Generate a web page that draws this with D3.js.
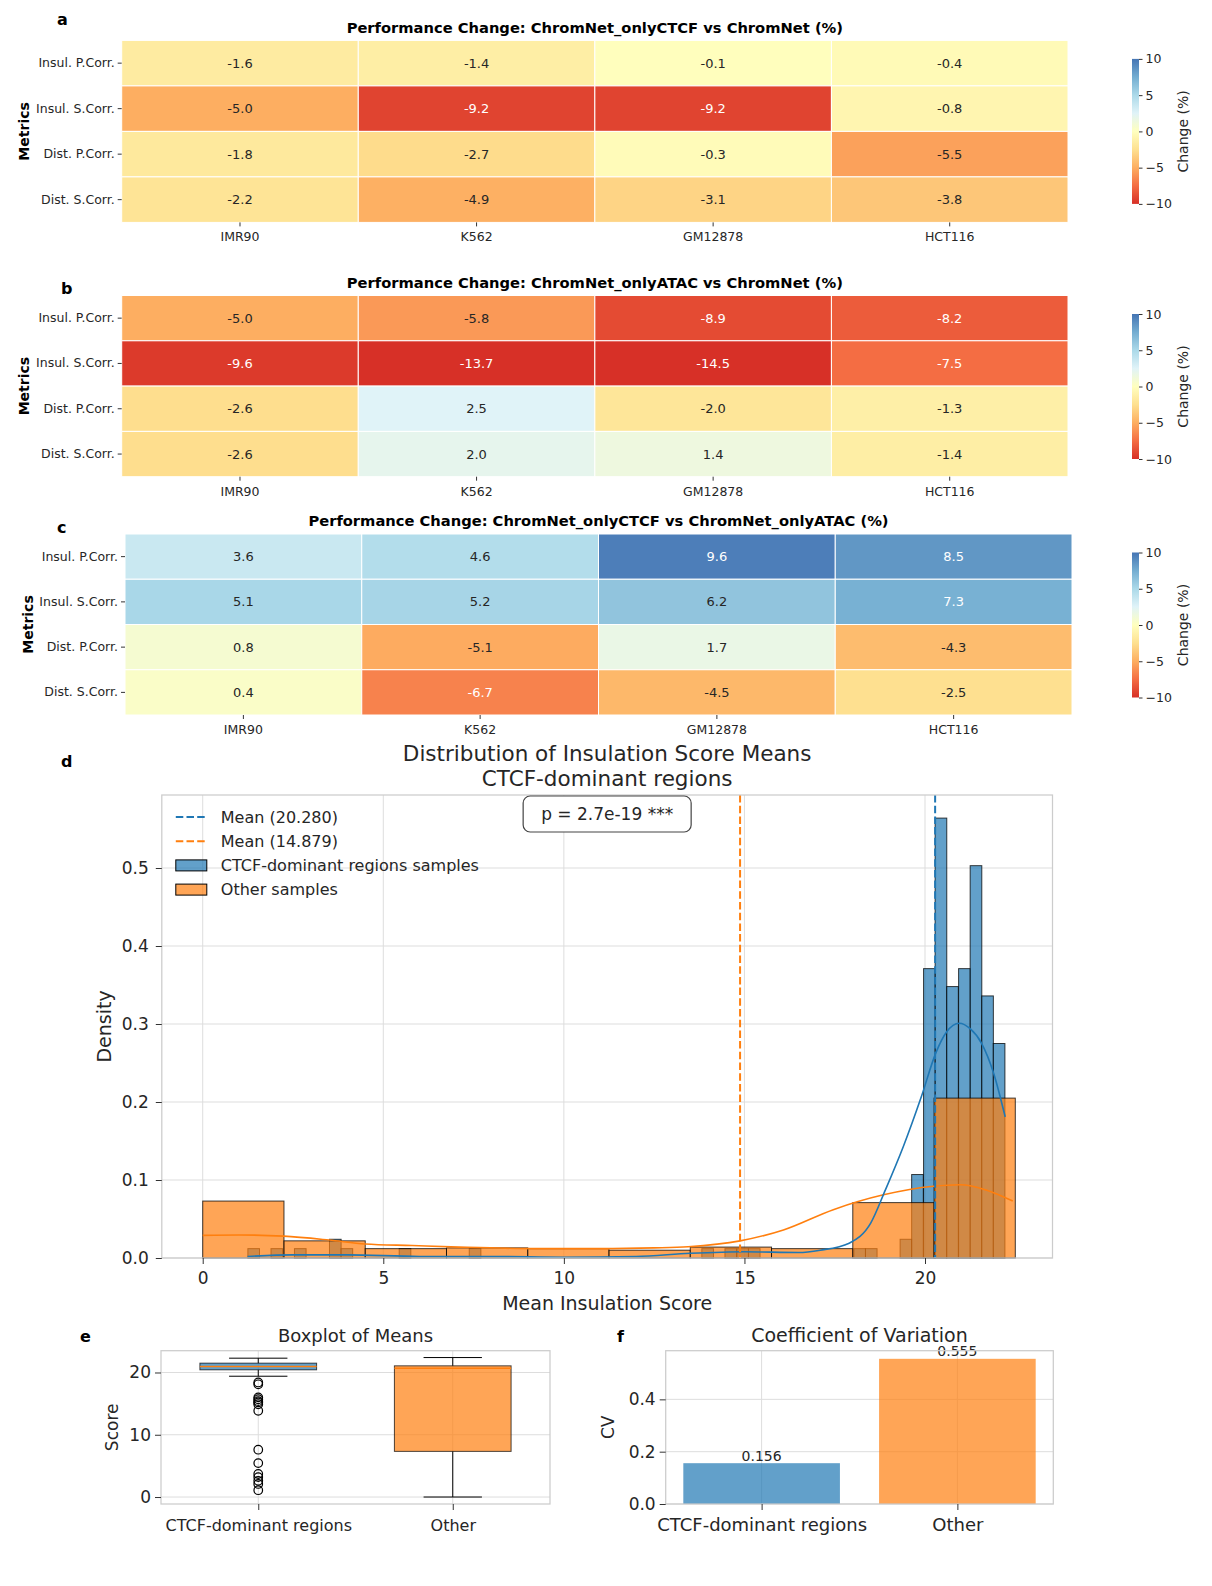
<!DOCTYPE html>
<html>
<head>
<meta charset="utf-8">
<script src="https://cdn.jsdelivr.net/npm/d3@7"></script>
<style>
  body { margin: 0; background: #fff; }
  svg { display: block; font-family: "DejaVu Sans", sans-serif; }
</style>
</head>
<body>
<div id="chart"></div>
<script>
// ---------------- data ----------------
const metrics = ["Insul. P.Corr.", "Insul. S.Corr.", "Dist. P.Corr.", "Dist. S.Corr."];
const cellLines = ["IMR90", "K562", "GM12878", "HCT116"];

// rows follow metrics, columns follow cellLines (% change)
const ctcfVsFull = [
  [-1.6, -1.4, -0.1, -0.4],
  [-5.0, -9.2, -9.2, -0.8],
  [-1.8, -2.7, -0.3, -5.5],
  [-2.2, -4.9, -3.1, -3.8]
];
const atacVsFull = [
  [-5.0, -5.8, -8.9, -8.2],
  [-9.6, -13.7, -14.5, -7.5],
  [-2.6, 2.5, -2.0, -1.3],
  [-2.6, 2.0, 1.4, -1.4]
];
const ctcfVsAtac = [
  [3.6, 4.6, 9.6, 8.5],
  [5.1, 5.2, 6.2, 7.3],
  [0.8, -5.1, 1.7, -4.3],
  [0.4, -6.7, -4.5, -2.5]
];
const changeTicks = [-10, -5, 0, 5, 10];

// distribution of insulation score means
const ctcfMean = 20.280;
const otherMean = 14.879;
const pText = "p = 2.7e-19 ***";

const otherBinStart = [0, 2.25, 4.5, 6.75, 9, 11.25, 13.5, 15.75, 18, 20.25];
const otherBinWidth = 2.25;
const otherDensity = [0.073, 0.022, 0.012, 0.013, 0.012, 0.010, 0.014, 0.012, 0.071, 0.205];

const ctcfBinStart = [1.25, 1.89, 2.54, 3.51, 3.83, 5.44, 7.38, 13.82, 14.46, 14.79, 15.11,
  18.03, 18.35, 19.31, 19.63, 19.96, 20.28, 20.60, 20.93, 21.25, 21.57, 21.89];
const ctcfBinWidth = 0.3225;
const ctcfDensity = [0.012, 0.012, 0.012, 0.024, 0.012, 0.012, 0.012, 0.012, 0.012, 0.012, 0.012,
  0.012, 0.012, 0.024, 0.107, 0.371, 0.564, 0.348, 0.371, 0.503, 0.336, 0.275];

// kde curves: [score, density]
const ctcfKde = [[1.24, 0.002], [2.5, 0.004], [4, 0.004], [6, 0.002], [8, 0.002], [10, 0.001],
  [12, 0.002], [13.5, 0.006], [15, 0.008], [16.5, 0.007], [17.1, 0.010], [17.9, 0.019],
  [18.5, 0.045], [18.9, 0.087], [19.4, 0.143], [19.9, 0.207], [20.3, 0.263], [20.6, 0.290],
  [20.95, 0.301], [21.25, 0.294], [21.57, 0.275], [21.9, 0.237], [22.22, 0.181]];
const otherKde = [[0, 0.029], [1, 0.0295], [2.24, 0.028], [3.5, 0.023], [4.5, 0.018], [5.8, 0.016],
  [7.1, 0.014], [9.25, 0.012], [11.0, 0.012], [12.5, 0.013], [13.44, 0.0145], [14.88, 0.022],
  [16.08, 0.036], [17.46, 0.062], [18.85, 0.081], [20.23, 0.092], [20.97, 0.094], [21.71, 0.087],
  [22.43, 0.073]];

// boxplot + coefficient of variation
const groups = ["CTCF-dominant regions", "Other"];
const whiskerLow = [19.4, 0.0];
const boxQ1 = [20.43, 7.33];
const boxMedian = [20.96, 20.7];
const boxQ3 = [21.5, 21.07];
const whiskerHigh = [22.3, 22.4];
const ctcfOutliers = [18.4, 18.1, 16.0, 15.7, 15.4, 15.2, 14.9, 13.85, 7.6, 5.45, 3.7, 3.2, 2.6, 2.1, 1.1];
const cvValues = [0.156, 0.555];

// ---------------- setup ----------------
const blue = "#1f77b4", orange = "#ff7f0e", ink = "#262626";
const gridCol = "#dddddd", frameCol = "#cccccc";
const groupColor = [blue, orange];

const svg = d3.select("#chart").append("svg").attr("width", 1212).attr("height", 1586);
const fmtCell = d3.formatLocale({decimal: ".", thousands: ",", grouping: [3], currency: ["", ""], minus: "-"}).format(".1f");

const heatColors = ["#d73027", "#f46d43", "#fdae61", "#fee090", "#ffffbf", "#e0f3f8", "#abd9e9", "#74add1", "#4575b4"];
const heatColor = d3.scaleLinear()
  .domain(heatColors.map((c, i) => -10 + 20 * i / (heatColors.length - 1)))
  .range(heatColors)
  .clamp(true);

const grad = svg.append("defs").append("linearGradient")
  .attr("id", "cbar").attr("x1", 0).attr("y1", 1).attr("x2", 0).attr("y2", 0);
grad.selectAll("stop").data(heatColors).join("stop")
  .attr("offset", (d, i) => i / (heatColors.length - 1))
  .attr("stop-color", d => d);

// white text on dark cells (same rule seaborn uses)
function textColor(c) {
  const rgb = d3.rgb(c);
  const lin = v => { v /= 255; return v <= 0.03928 ? v / 12.92 : Math.pow((v + 0.055) / 1.055, 2.4); };
  const L = 0.2126 * lin(rgb.r) + 0.7152 * lin(rgb.g) + 0.0722 * lin(rgb.b);
  return L > 0.408 ? ink : "#fff";
}

function styleAxis(a, size) {
  a.attr("font-family", "DejaVu Sans").attr("font-size", size);
  a.select(".domain").remove();
  a.selectAll("line").attr("stroke", "#333");
  a.selectAll("text").attr("fill", ink);
}

function letter(t, x, y) {
  svg.append("text").attr("x", x).attr("y", y)
    .attr("font-size", 16).attr("font-weight", "bold")
    .attr("dominant-baseline", "central").text(t);
}

// ---------------- heatmaps a, b, c ----------------
function heatmap(values, title, tag, box) {
  const x = d3.scaleBand().domain(cellLines).range([box.left, box.right]);
  const y = d3.scaleBand().domain(metrics).range([box.top, box.bottom]);
  const g = svg.append("g");
  const cells = metrics.flatMap((m, r) => cellLines.map((c, k) => ({m, c, v: values[r][k]})));

  g.selectAll("rect").data(cells).join("rect")
    .attr("x", d => x(d.c)).attr("y", d => y(d.m))
    .attr("width", x.bandwidth()).attr("height", y.bandwidth())
    .attr("fill", d => heatColor(d.v))
    .attr("stroke", "#fff").attr("stroke-width", 1);

  g.selectAll("text.val").data(cells).join("text").attr("class", "val")
    .attr("x", d => x(d.c) + x.bandwidth() / 2)
    .attr("y", d => y(d.m) + y.bandwidth() / 2)
    .attr("text-anchor", "middle").attr("dominant-baseline", "central")
    .attr("font-size", 13)
    .attr("fill", d => textColor(heatColor(d.v)))
    .text(d => fmtCell(d.v));

  styleAxis(g.append("g").attr("transform", `translate(0,${box.bottom})`)
    .call(d3.axisBottom(x).tickSize(4).tickPadding(6)), 12.5);
  styleAxis(g.append("g").attr("transform", `translate(${box.left},0)`)
    .call(d3.axisLeft(y).tickSize(4).tickPadding(3)), 12.5);

  g.append("text")
    .attr("x", (box.left + box.right) / 2).attr("y", box.titleY)
    .attr("text-anchor", "middle").attr("dominant-baseline", "central")
    .attr("font-size", 14.7).attr("font-weight", "bold").text(title);

  g.append("text")
    .attr("transform", `translate(${box.metricsX},${(box.top + box.bottom) / 2}) rotate(-90)`)
    .attr("text-anchor", "middle").attr("dominant-baseline", "central")
    .attr("font-size", 14).attr("font-weight", "bold").text("Metrics");

  // colorbar
  const cbTop = box.top + 18.5, cbBottom = cbTop + 145, cbX = 1132, cbW = 7;
  const cy = d3.scaleLinear().domain([-10, 10]).range([cbBottom, cbTop]);
  g.append("rect").attr("x", cbX).attr("y", cbTop).attr("width", cbW).attr("height", cbBottom - cbTop)
    .attr("fill", "url(#cbar)");
  styleAxis(g.append("g").attr("transform", `translate(${cbX + cbW},0)`)
    .call(d3.axisRight(cy).tickValues(changeTicks).tickFormat(d3.format("d")).tickSize(3.5).tickPadding(3)), 12.5);
  g.append("text")
    .attr("transform", `translate(1183,${(cbTop + cbBottom) / 2}) rotate(-90)`)
    .attr("text-anchor", "middle").attr("dominant-baseline", "central")
    .attr("font-size", 14).attr("fill", ink).text("Change (%)");

  letter(tag, box.letterX, box.letterY);
}

heatmap(ctcfVsFull, "Performance Change: ChromNet_onlyCTCF vs ChromNet (%)", "a",
  {left: 121.7, right: 1068, top: 40.4, bottom: 222.4, titleY: 27.5, metricsX: 24, letterX: 57, letterY: 19.5});
heatmap(atacVsFull, "Performance Change: ChromNet_onlyATAC vs ChromNet (%)", "b",
  {left: 121.7, right: 1068, top: 295.5, bottom: 476.7, titleY: 282, metricsX: 24, letterX: 61, letterY: 288});
heatmap(ctcfVsAtac, "Performance Change: ChromNet_onlyCTCF vs ChromNet_onlyATAC (%)", "c",
  {left: 125, right: 1072, top: 534, bottom: 715, titleY: 520.7, metricsX: 28, letterX: 57, letterY: 527});

// ---------------- d: histogram ----------------
{
  const box = {left: 161.8, right: 1052.5, top: 795, bottom: 1258};
  const x = d3.scaleLinear().domain([-1.133, 23.53]).range([box.left, box.right]);
  const y = d3.scaleLinear().domain([0, 0.5936]).range([box.bottom, box.top]);
  const g = svg.append("g");

  g.append("g").selectAll("line").data(x.ticks(5)).join("line")
    .attr("x1", d => x(d)).attr("x2", d => x(d)).attr("y1", box.top).attr("y2", box.bottom)
    .attr("stroke", gridCol).attr("stroke-width", 1);
  g.append("g").selectAll("line").data(y.ticks(6)).join("line")
    .attr("x1", box.left).attr("x2", box.right).attr("y1", d => y(d)).attr("y2", d => y(d))
    .attr("stroke", gridCol).attr("stroke-width", 1);

  const bars = (starts, width, dens, col) => g.append("g").selectAll("rect").data(starts).join("rect")
    .attr("x", d => x(d)).attr("width", x(width) - x(0))
    .attr("y", (d, i) => y(dens[i])).attr("height", (d, i) => y(0) - y(dens[i]))
    .attr("fill", col).attr("fill-opacity", 0.7)
    .attr("stroke", "#000").attr("stroke-opacity", 0.75).attr("stroke-width", 1);
  bars(ctcfBinStart, ctcfBinWidth, ctcfDensity, blue);
  bars(otherBinStart, otherBinWidth, otherDensity, orange);

  const line = d3.line().x(d => x(d[0])).y(d => y(d[1])).curve(d3.curveMonotoneX);
  g.append("path").attr("d", line(otherKde)).attr("fill", "none").attr("stroke", orange).attr("stroke-width", 1.6);
  g.append("path").attr("d", line(ctcfKde)).attr("fill", "none").attr("stroke", blue).attr("stroke-width", 1.6);

  [[ctcfMean, blue], [otherMean, orange]].forEach(([m, c]) => {
    g.append("line").attr("x1", x(m)).attr("x2", x(m)).attr("y1", box.top).attr("y2", box.bottom)
      .attr("stroke", c).attr("stroke-width", 2).attr("stroke-dasharray", "7.5,3.2");
  });

  g.append("rect").attr("x", box.left).attr("y", box.top)
    .attr("width", box.right - box.left).attr("height", box.bottom - box.top)
    .attr("fill", "none").attr("stroke", frameCol).attr("stroke-width", 1.25);

  styleAxis(g.append("g").attr("transform", `translate(0,${box.bottom})`)
    .call(d3.axisBottom(x).ticks(5).tickSize(6).tickPadding(8)), 17);
  styleAxis(g.append("g").attr("transform", `translate(${box.left},0)`)
    .call(d3.axisLeft(y).ticks(6).tickFormat(d3.format(".1f")).tickSize(6).tickPadding(7)), 17);

  const cx = (box.left + box.right) / 2;
  g.append("text").attr("x", cx).attr("y", 753).attr("text-anchor", "middle").attr("dominant-baseline", "central")
    .attr("font-size", 21.5).attr("fill", ink).text("Distribution of Insulation Score Means");
  g.append("text").attr("x", cx).attr("y", 778.5).attr("text-anchor", "middle").attr("dominant-baseline", "central")
    .attr("font-size", 21.5).attr("fill", ink).text("CTCF-dominant regions");
  g.append("text").attr("x", cx).attr("y", 1303).attr("text-anchor", "middle").attr("dominant-baseline", "central")
    .attr("font-size", 19).attr("fill", ink).text("Mean Insulation Score");
  g.append("text").attr("transform", `translate(104,${(box.top + box.bottom) / 2}) rotate(-90)`)
    .attr("text-anchor", "middle").attr("dominant-baseline", "central")
    .attr("font-size", 19).attr("fill", ink).text("Density");

  // p-value box at top centre of the axes
  const pw = 168, ph = 36;
  g.append("rect").attr("x", cx - pw / 2).attr("y", box.top + 1).attr("width", pw).attr("height", ph)
    .attr("rx", 7).attr("fill", "#fff").attr("stroke", "#444").attr("stroke-width", 1.2);
  g.append("text").attr("x", cx).attr("y", box.top + 1 + ph / 2).attr("text-anchor", "middle")
    .attr("dominant-baseline", "central").attr("font-size", 17).attr("fill", ink).text(pText);

  // legend
  const fmt3 = d3.format(".3f");
  const items = [
    {type: "line", c: blue, t: `Mean (${fmt3(ctcfMean)})`},
    {type: "line", c: orange, t: `Mean (${fmt3(otherMean)})`},
    {type: "patch", c: blue, t: "CTCF-dominant regions samples"},
    {type: "patch", c: orange, t: "Other samples"}
  ];
  const lx = box.left + 14, ly = box.top + 22, step = 24.2;
  items.forEach((it, i) => {
    const yy = ly + i * step;
    if (it.type === "line") {
      g.append("line").attr("x1", lx).attr("x2", lx + 31).attr("y1", yy).attr("y2", yy)
        .attr("stroke", it.c).attr("stroke-width", 2).attr("stroke-dasharray", "7.5,3.2");
    } else {
      g.append("rect").attr("x", lx).attr("y", yy - 5.5).attr("width", 31).attr("height", 11)
        .attr("fill", it.c).attr("fill-opacity", 0.7).attr("stroke", "#000").attr("stroke-width", 1);
    }
    g.append("text").attr("x", lx + 45).attr("y", yy).attr("dominant-baseline", "central")
      .attr("font-size", 16).attr("fill", ink).text(it.t);
  });

  letter("d", 61, 761);
}

// ---------------- e: boxplot ----------------
{
  const box = {left: 161, right: 550, top: 1350.7, bottom: 1504};
  const x = d3.scaleLinear().domain([0.5, 2.5]).range([box.left, box.right]);
  const y = d3.scaleLinear().domain([-1.12, 23.5]).range([box.bottom, box.top]);
  const g = svg.append("g");
  const yTicks = [0, 10, 20];
  const pos = groups.map((d, i) => i + 1);
  const half = 0.3, cap = 0.15;

  g.append("g").selectAll("line").data(pos).join("line")
    .attr("x1", d => x(d)).attr("x2", d => x(d)).attr("y1", box.top).attr("y2", box.bottom)
    .attr("stroke", gridCol);
  g.append("g").selectAll("line").data(yTicks).join("line")
    .attr("x1", box.left).attr("x2", box.right).attr("y1", d => y(d)).attr("y2", d => y(d))
    .attr("stroke", gridCol);

  pos.forEach((p, i) => {
    g.append("line").attr("x1", x(p)).attr("x2", x(p)).attr("y1", y(whiskerLow[i])).attr("y2", y(boxQ1[i])).attr("stroke", "#000");
    g.append("line").attr("x1", x(p)).attr("x2", x(p)).attr("y1", y(boxQ3[i])).attr("y2", y(whiskerHigh[i])).attr("stroke", "#000");
    [whiskerLow[i], whiskerHigh[i]].forEach(v => g.append("line")
      .attr("x1", x(p - cap)).attr("x2", x(p + cap)).attr("y1", y(v)).attr("y2", y(v)).attr("stroke", "#000"));
    g.append("rect").attr("x", x(p - half)).attr("width", x(p + half) - x(p - half))
      .attr("y", y(boxQ3[i])).attr("height", y(boxQ1[i]) - y(boxQ3[i]))
      .attr("fill", groupColor[i]).attr("fill-opacity", 0.7)
      .attr("stroke", "#000").attr("stroke-opacity", 0.7).attr("stroke-width", 1);
    g.append("line").attr("x1", x(p - half)).attr("x2", x(p + half))
      .attr("y1", y(boxMedian[i])).attr("y2", y(boxMedian[i]))
      .attr("stroke", orange).attr("stroke-width", 1.5);
  });
  g.append("g").selectAll("circle").data(ctcfOutliers).join("circle")
    .attr("cx", x(pos[0])).attr("cy", d => y(d)).attr("r", 4.3)
    .attr("fill", "none").attr("stroke", "#000").attr("stroke-width", 1.2);

  g.append("rect").attr("x", box.left).attr("y", box.top)
    .attr("width", box.right - box.left).attr("height", box.bottom - box.top)
    .attr("fill", "none").attr("stroke", frameCol).attr("stroke-width", 1.25);

  styleAxis(g.append("g").attr("transform", `translate(0,${box.bottom})`)
    .call(d3.axisBottom(x).tickValues(pos).tickFormat((d, i) => groups[i]).tickSize(6).tickPadding(10)), 16);
  styleAxis(g.append("g").attr("transform", `translate(${box.left},0)`)
    .call(d3.axisLeft(y).tickValues(yTicks).tickSize(6).tickPadding(4)), 17);

  g.append("text").attr("x", (box.left + box.right) / 2).attr("y", 1335)
    .attr("text-anchor", "middle").attr("dominant-baseline", "central")
    .attr("font-size", 18).attr("fill", ink).text("Boxplot of Means");
  g.append("text").attr("transform", `translate(111.7,${(box.top + box.bottom) / 2}) rotate(-90)`)
    .attr("text-anchor", "middle").attr("dominant-baseline", "central")
    .attr("font-size", 17).attr("fill", ink).text("Score");
  letter("e", 80, 1336);
}

// ---------------- f: coefficient of variation ----------------
{
  const box = {left: 665.7, right: 1053.3, top: 1350.7, bottom: 1504};
  const x = d3.scaleLinear().domain([-0.49, 1.49]).range([box.left, box.right]);
  const y = d3.scaleLinear().domain([0, 0.586]).range([box.bottom, box.top]);
  const g = svg.append("g");
  const pos = groups.map((d, i) => i);
  const yTicks = [0, 0.2, 0.4];

  g.append("g").selectAll("line").data(pos).join("line")
    .attr("x1", d => x(d)).attr("x2", d => x(d)).attr("y1", box.top).attr("y2", box.bottom)
    .attr("stroke", gridCol);
  g.append("g").selectAll("line").data(yTicks).join("line")
    .attr("x1", box.left).attr("x2", box.right).attr("y1", d => y(d)).attr("y2", d => y(d))
    .attr("stroke", gridCol);

  g.append("g").selectAll("rect").data(cvValues).join("rect")
    .attr("x", (d, i) => x(pos[i] - 0.4)).attr("width", x(0.8) - x(0))
    .attr("y", d => y(d)).attr("height", d => y(0) - y(d))
    .attr("fill", (d, i) => groupColor[i]).attr("fill-opacity", 0.7);
  g.append("g").selectAll("text").data(cvValues).join("text")
    .attr("x", (d, i) => x(pos[i])).attr("y", d => y(d) - 2.5)
    .attr("text-anchor", "middle").attr("font-size", 14).attr("fill", ink)
    .text(d => d3.format(".3f")(d));

  g.append("rect").attr("x", box.left).attr("y", box.top)
    .attr("width", box.right - box.left).attr("height", box.bottom - box.top)
    .attr("fill", "none").attr("stroke", frameCol).attr("stroke-width", 1.25);

  styleAxis(g.append("g").attr("transform", `translate(0,${box.bottom})`)
    .call(d3.axisBottom(x).tickValues(pos).tickFormat((d, i) => groups[i]).tickSize(6).tickPadding(8)), 18);
  styleAxis(g.append("g").attr("transform", `translate(${box.left},0)`)
    .call(d3.axisLeft(y).tickValues(yTicks).tickFormat(d3.format(".1f")).tickSize(6).tickPadding(4)), 17);

  g.append("text").attr("x", (box.left + box.right) / 2).attr("y", 1335)
    .attr("text-anchor", "middle").attr("dominant-baseline", "central")
    .attr("font-size", 19).attr("fill", ink).text("Coefficient of Variation");
  g.append("text").attr("transform", `translate(608,${(box.top + box.bottom) / 2}) rotate(-90)`)
    .attr("text-anchor", "middle").attr("dominant-baseline", "central")
    .attr("font-size", 17).attr("fill", ink).text("CV");
  letter("f", 617, 1336);
}
</script>
</body>
</html>
